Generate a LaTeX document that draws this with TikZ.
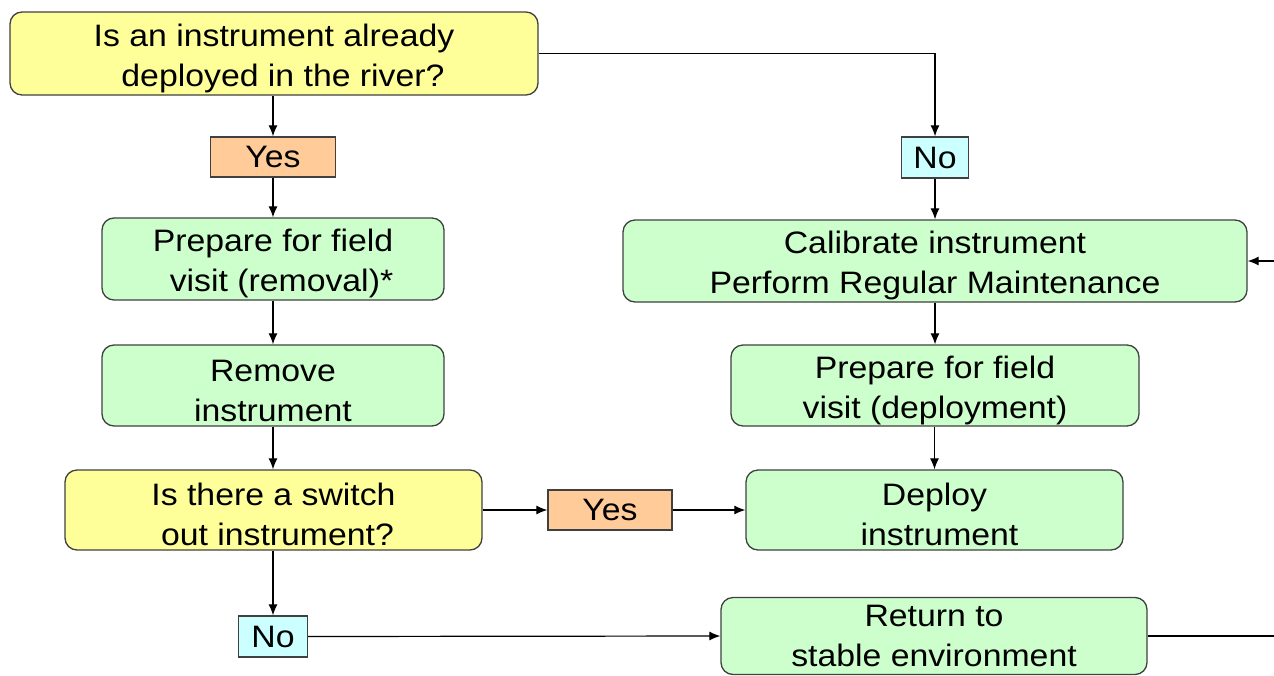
\documentclass[tikz,border=0pt]{standalone}
\usepackage{fontspec}
\setmainfont{Liberation Sans}[FakeStretch=1.09]
\usetikzlibrary{arrows.meta}
\definecolor{qyel}{HTML}{FFFF99}
\definecolor{sgreen}{HTML}{CCFFCC}
\definecolor{yorange}{HTML}{FFCC99}
\definecolor{ncyan}{HTML}{CCFFFF}
\definecolor{bord}{HTML}{404040}
\newcommand{\toppad}{\rule{0pt}{32pt}}
\tikzset{
  box/.style={draw=bord, line width=1.3pt, rounded corners=12pt, align=center,
    font=\fontsize{31}{40}\selectfont, inner sep=0pt},
  qbox/.style={box, fill=qyel},
  sbox/.style={box, fill=sgreen},
  ybox/.style={draw=bord, line width=1.3pt, fill=yorange, inner sep=0pt,
    font=\fontsize{31}{40}\selectfont},
  nbox/.style={draw=bord, line width=1.3pt, fill=ncyan, inner sep=0pt,
    font=\fontsize{31}{40}\selectfont},
  arr/.style={line width=1.2pt, -{Latex[length=11pt,width=9pt]}},
  ln/.style={line width=1.2pt}
}
\begin{document}
\begin{tikzpicture}[x=1pt,y=-1pt]
\useasboundingbox (0,0) rectangle (1274,675);
\node[qbox, minimum width=528pt, minimum height=83pt] (q1) at (274,53.5)
  {\toppad Is an instrument already\\ \hspace*{18pt}deployed in the river?};
\node[ybox, minimum width=125pt, minimum height=40pt] (yes1) at (273,157) {Yes};
\node[nbox, minimum width=67pt, minimum height=41pt] (no1) at (935,157.5) {No};
\node[sbox, minimum width=342pt, minimum height=82pt] (prepr) at (273,259)
  {\toppad Prepare for field\\ \hspace*{17pt}visit (removal)*};
\node[sbox, minimum width=624pt, minimum height=82pt] (cal) at (935,261)
  {\toppad Calibrate instrument\\ Perform Regular Maintenance};
\node[sbox, minimum width=342pt, minimum height=81pt] (remove) at (273,385.5)
  {\toppad Remove\\ instrument};
\node[sbox, minimum width=408pt, minimum height=81pt] (prepd) at (935,385.5)
  {\toppad Prepare for field\\ visit (deployment)};
\node[qbox, minimum width=417pt, minimum height=80pt] (q2) at (273.5,510)
  {\toppad Is there a switch\\ \hspace*{8pt}out instrument?};
\node[ybox, minimum width=124pt, minimum height=40pt] (yes2) at (610,510) {Yes};
\node[sbox, minimum width=377pt, minimum height=80pt] (deploy) at (934.5,510)
  {\toppad Deploy\\ \hspace*{10pt}instrument};
\node[nbox, minimum width=69pt, minimum height=41pt] (no2) at (273,636.5) {No};
\node[sbox, minimum width=426pt, minimum height=77pt] (ret) at (934,636)
  {Return to\\ stable environment};
\coordinate (rend) at (1274,636);
\coordinate (cin) at (1274,261);

\draw[arr] (q1.south -| yes1.north) -- (yes1.north);
\draw[arr] (yes1.south) -- (prepr.north);
\draw[arr] (q1.east) -| (no1.north);
\draw[arr] (no1.south) -- (cal.north -| no1.south);
\draw[arr] (prepr.south) -- (remove.north);
\draw[arr] (remove.south) -- (q2.north -| remove.south);
\draw[arr] (cal.south -| prepd.north) -- (prepd.north);
\draw[arr] (prepd.south -| deploy.north) -- (deploy.north);
\draw[arr] (q2.east) -- (yes2.west);
\draw[arr] (yes2.east) -- (deploy.west);
\draw[arr] (q2.south -| no2.north) -- (no2.north);
\draw[arr] (no2.east) -- (ret.west);
\draw[ln] (ret.east) -- (rend);
\draw[arr] (cin) -- (cal.east);
\end{tikzpicture}
\end{document}
